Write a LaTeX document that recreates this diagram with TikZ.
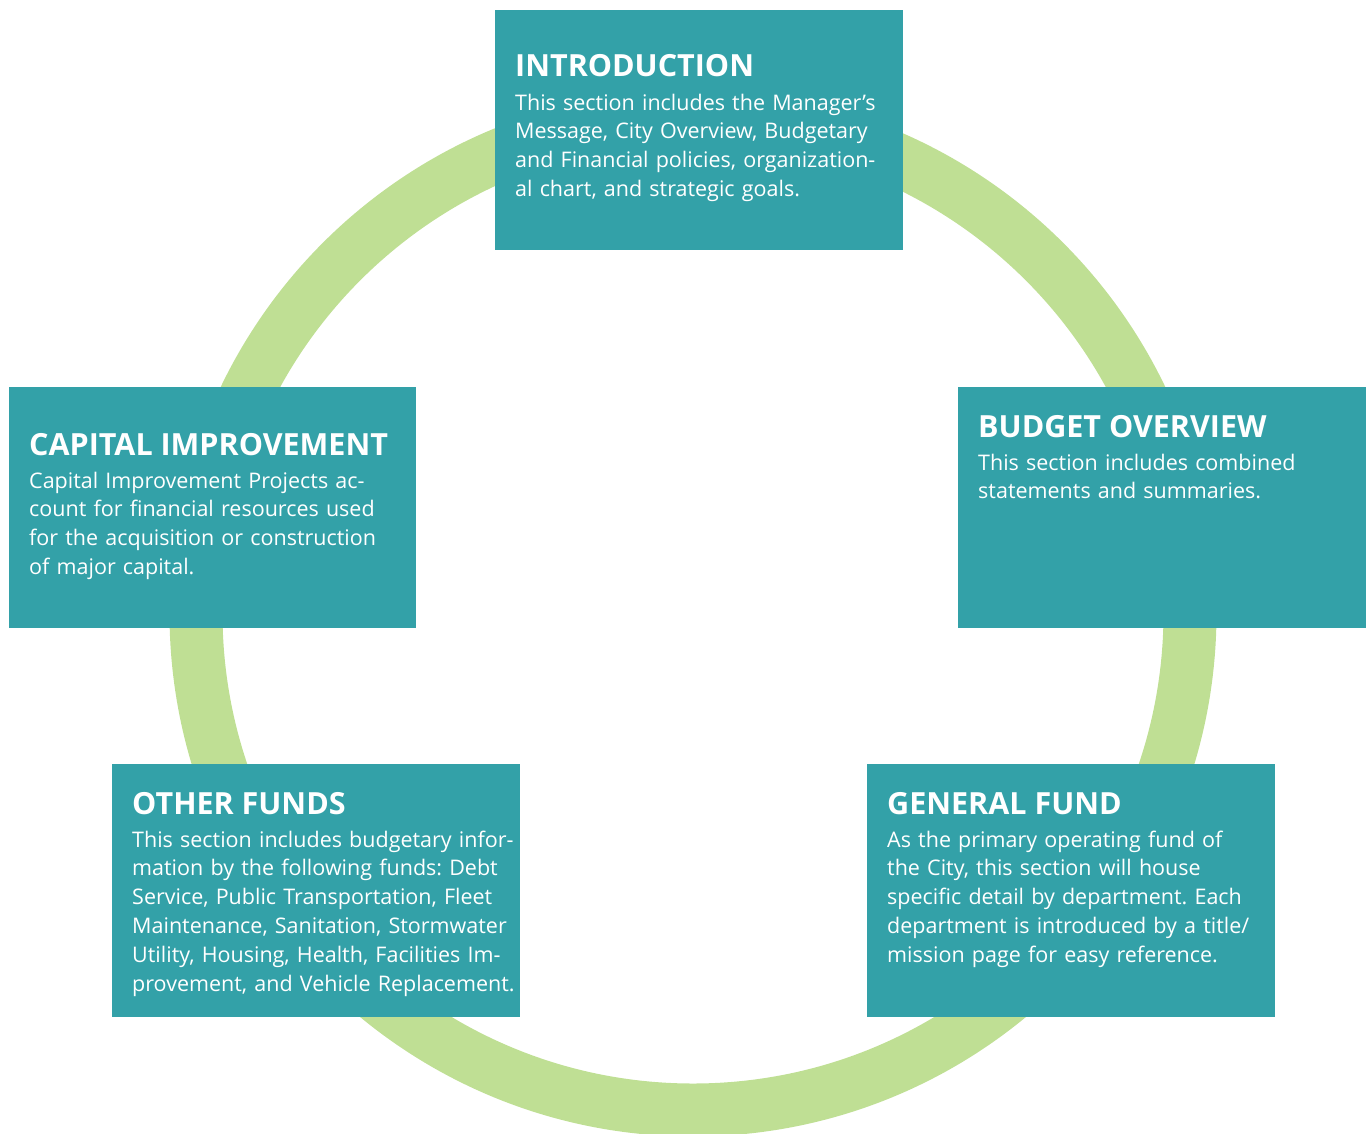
\documentclass[tikz,border=0pt]{standalone}
\usepackage{fontspec}
\setmainfont{Open Sans}
\frenchspacing
\definecolor{teal1}{HTML}{33A1A8}
\definecolor{ring}{HTML}{BFDF94}
\tikzset{
  panel/.style={fill=teal1, draw=none},
  ttl/.style={anchor=base west, inner sep=0pt, text=white, font=\fontsize{30.5}{32}\selectfont\bfseries},
  bodytxt/.style={anchor=base west, inner sep=0pt, text=white, align=left, text width=400pt, font=\fontsize{21.5}{28.8}\selectfont}
}
\begin{document}
\begin{tikzpicture}[x=1pt,y=-1pt]
\useasboundingbox (0,0) rectangle (1366,1133);
\clip (0,0) rectangle (1366,1133);
\draw[ring, line width=53pt] (693,613) circle[radius=497pt];
% boxes
\fill[panel] (495,10) rectangle (903,250);
\fill[panel] (958,387) rectangle (1366,628);
\fill[panel] (9,387) rectangle (416,628);
\fill[panel] (112,764) rectangle (520,1017);
\fill[panel] (867,764) rectangle (1275,1017);
% intro
\node[ttl] (t1) at (515,76) {INTRODUCTION};
\node[bodytxt] (b1) at (515,110) {This section includes the Manager’s\\Message, City Overview, Budgetary\\and Financial policies, organization-\\al chart, and strategic goals.};
% budget
\node[ttl] (t2) at (978,437) {BUDGET OVERVIEW};
\node[bodytxt] (b2) at (978,470) {This section includes combined\\statements and summaries.};
% capital
\node[ttl] (t3) at (29,455) {CAPITAL IMPROVEMENT};
\node[bodytxt] (b3) at (29,488) {Capital Improvement Projects ac-\\count for financial resources used\\for the acquisition or construction\\of major capital.};
% other
\node[ttl] (t4) at (132,814) {OTHER FUNDS};
\node[bodytxt] (b4) at (132,847) {This section includes budgetary infor-\\mation by the following funds: Debt\\Service, Public Transportation, Fleet\\Maintenance, Sanitation, Stormwater\\Utility, Housing, Health, Facilities Im-\\provement, and Vehicle Replacement.};
% general
\node[ttl] (t5) at (887,814) {GENERAL FUND};
\node[bodytxt] (b5) at (887,847) {As the primary operating fund of\\the City, this section will house\\specific detail by department. Each\\department is introduced by a title/\\mission page for easy reference.};
\end{tikzpicture}
\end{document}
